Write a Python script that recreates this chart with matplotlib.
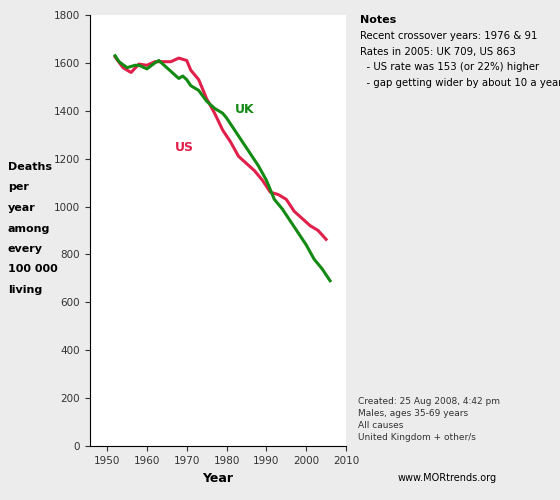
import matplotlib
matplotlib.use("Agg")
import matplotlib.pyplot as plt

uk_years = [1952,1953,1955,1957,1958,1960,1962,1963,1965,1967,1968,1969,1970,1971,1973,1975,1977,1979,1980,1982,1984,1986,1988,1990,1992,1994,1996,1998,2000,2002,2004,2006]
uk_vals  = [1630,1605,1580,1590,1590,1575,1600,1610,1580,1550,1535,1545,1530,1505,1485,1440,1410,1390,1370,1320,1270,1220,1170,1110,1030,990,940,890,840,780,740,690]
us_years = [1952,1954,1956,1958,1960,1962,1964,1966,1968,1970,1971,1973,1975,1977,1979,1981,1983,1985,1987,1989,1991,1993,1995,1997,1999,2001,2003,2005]
us_vals  = [1625,1580,1560,1595,1590,1605,1605,1605,1620,1610,1570,1530,1450,1390,1320,1270,1210,1180,1150,1110,1060,1050,1030,980,950,920,900,863]

fig = plt.figure(figsize=(5.6,5.0), dpi=100, facecolor="#ececec")
ax = fig.add_axes([90/560, 54/500, 256/560, 431/500])
ax.set_facecolor("white")
ax.plot(us_years, us_vals, color="#e0204a", lw=2.2)
ax.plot(uk_years, uk_vals, color="#138a13", lw=2.2)
ax.set_xlim(1945.7, 2010)
ax.set_ylim(0, 1800)
ax.set_xticks(range(1950, 2011, 10))
ax.set_yticks(range(0, 1801, 200))
ax.tick_params(labelsize=7.5, colors="#333333")
for s in ["top","right"]:
    ax.spines[s].set_visible(False)
ax.text(1982, 1390, "UK", color="#138a13", fontsize=9, fontweight="bold")
ax.text(1967, 1230, "US", color="#e0204a", fontsize=9, fontweight="bold")
fig.text(218/560, 1-478/500, "Year", fontsize=9, fontweight="bold", ha="center", va="center")
ylab = ["Deaths", "per", "year", "among", "every", "100 000", "living"]
for i, t in enumerate(ylab):
    fig.text(8/560, 1-(167+i*20.5)/500, t, fontsize=8, fontweight="bold", va="center")
fig.text(360/560, 1-20/500, "Notes", fontsize=8, fontweight="bold", va="center")
notes = ["Recent crossover years: 1976 & 91", "Rates in 2005: UK 709, US 863",
         "  - US rate was 153 (or 22%) higher", "  - gap getting wider by about 10 a year"]
for i, t in enumerate(notes):
    fig.text(360/560, 1-(36+i*15.5)/500, t, fontsize=7.3, va="center")
meta = ["Created: 25 Aug 2008, 4:42 pm", "Males, ages 35-69 years", "All causes", "United Kingdom + other/s"]
for i, t in enumerate(meta):
    fig.text(358/560, 1-(401+i*12)/500, t, fontsize=6.5, color="#333333", va="center")
fig.text(398/560, 1-478/500, "www.MORtrends.org", fontsize=7, va="center")
fig.savefig("out.png", dpi=100, facecolor=fig.get_facecolor())
